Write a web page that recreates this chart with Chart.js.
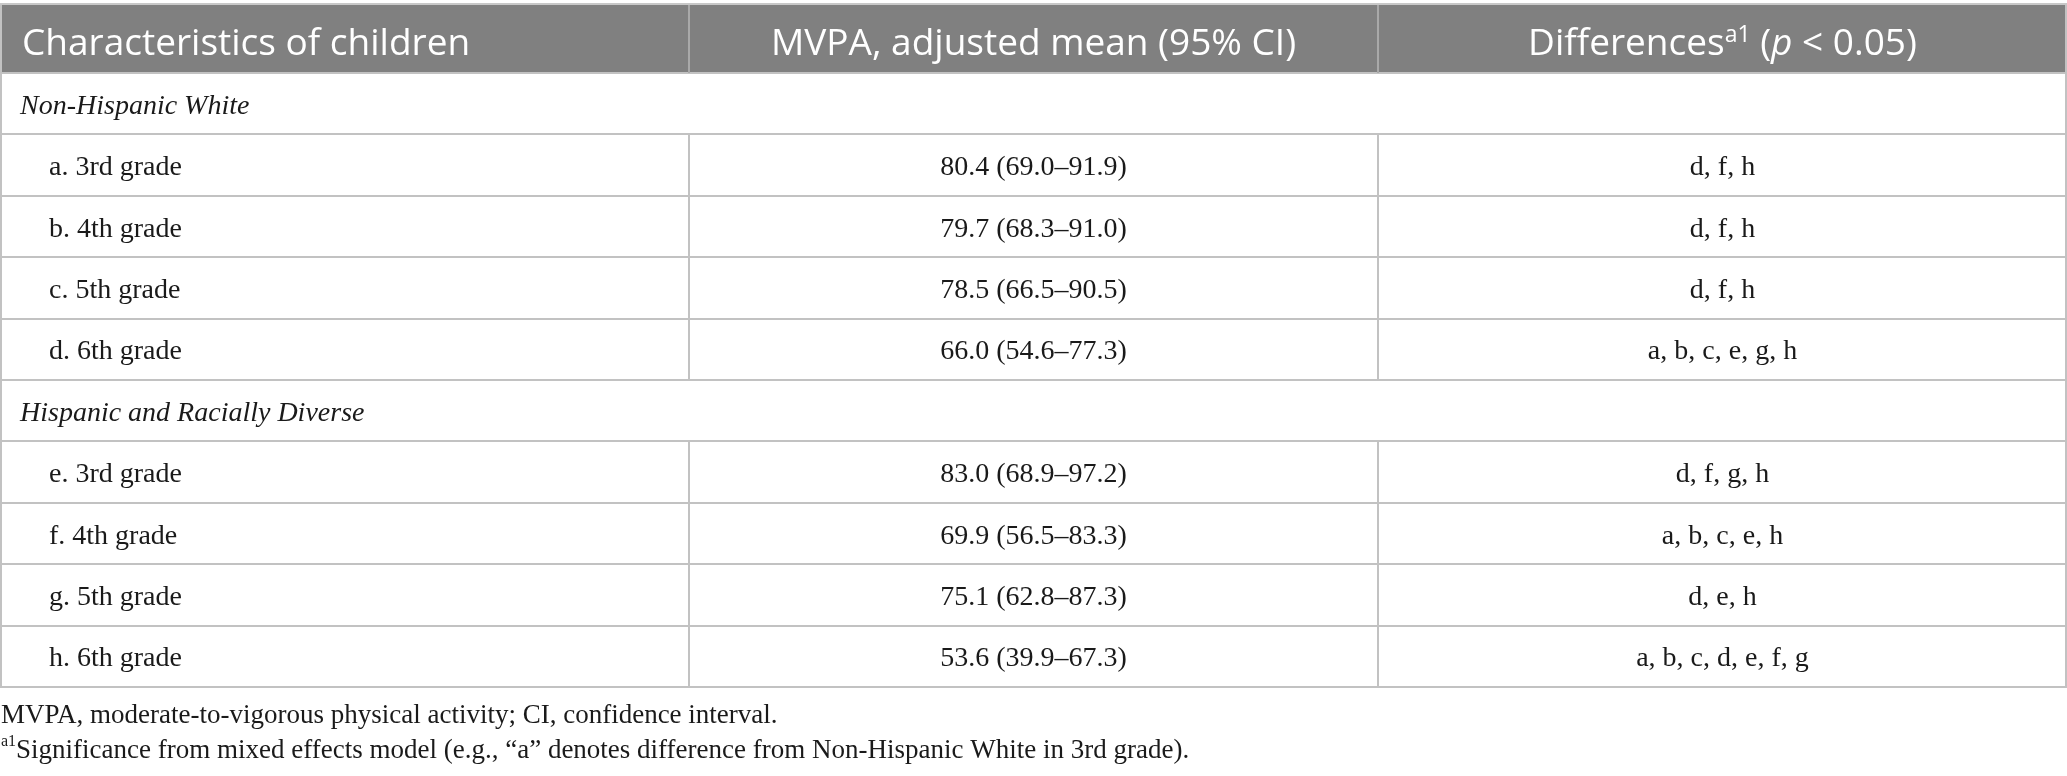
<!DOCTYPE html>
<html>
<head>
<meta charset="utf-8">
<script src="https://cdn.jsdelivr.net/npm/chart.js@4.4.1/dist/chart.umd.min.js"></script>
<style>
  html, body { margin: 0; padding: 0; background: #fff; }
  #wrap { width: 2067px; height: 776px; }
</style>
</head>
<body>
<div id="wrap"><canvas id="mvpaTable" width="2067" height="776"></canvas></div>
<script>
const columnHeaders = ['Characteristics of children', 'MVPA, adjusted mean (95% CI)', 'Differences'];
const groups = ['Non-Hispanic White', 'Hispanic and Racially Diverse'];
const grades = ['3rd grade', '4th grade', '5th grade', '6th grade'];
const letters = ['a', 'b', 'c', 'd', 'e', 'f', 'g', 'h'];
const means = [80.4, 79.7, 78.5, 66.0, 83.0, 69.9, 75.1, 53.6];
const ciLow = [69.0, 68.3, 66.5, 54.6, 68.9, 56.5, 62.8, 39.9];
const ciHigh = [91.9, 91.0, 90.5, 77.3, 97.2, 83.3, 87.3, 67.3];
const differences = ['d, f, h', 'd, f, h', 'd, f, h', 'a, b, c, e, g, h',
  'd, f, g, h', 'a, b, c, e, h', 'd, e, h', 'a, b, c, d, e, f, g'];
const footnote1 = 'MVPA, moderate-to-vigorous physical activity; CI, confidence interval.';
const footnote2 = 'Significance from mixed effects model (e.g., \u201ca\u201d denotes difference from Non-Hispanic White in 3rd grade).';

// one entry per table row: group headings, then lettered grades
const rows = [];
groups.forEach((g, gi) => {
  rows.push({ label: g, group: true });
  grades.forEach((gr, i) => {
    const k = gi * grades.length + i;
    rows.push({ label: letters[k] + '. ' + gr, group: false, k: k });
  });
});

const SANS = '"Open Sans", "Noto Sans", sans-serif';
const SERIF = '"Liberation Serif", "DejaVu Serif", serif';
const LINE = '#c2c2c2';

const tablePlugin = {
  id: 'tableCells',
  afterDraw(chart) {
    const { ctx, chartArea, scales: { x, y } } = chart;
    const left = x.getPixelForValue(0);
    const right = x.getPixelForValue(3);
    const edges = [1, 2].map(v => x.getPixelForValue(v));
    const centers = [0.5, 1.5, 2.5].map(v => x.getPixelForValue(v));
    const band = y.getPixelForValue(1) - y.getPixelForValue(0);
    const headTop = 5;
    const headBottom = chartArea.top;

    ctx.save();

    // header band
    ctx.fillStyle = '#808080';
    ctx.fillRect(left, headTop, right - left, headBottom - headTop - 1);
    ctx.strokeStyle = '#c8c8c8';
    ctx.lineWidth = 2;
    ctx.beginPath();
    ctx.moveTo(left, headTop - 1);
    ctx.lineTo(right, headTop - 1);
    ctx.stroke();
    ctx.strokeStyle = '#a9a9a9';
    edges.forEach(ex => {
      ctx.beginPath();
      ctx.moveTo(ex, headTop);
      ctx.lineTo(ex, headBottom);
      ctx.stroke();
    });

    // vertical rules in body (group rows span the whole width)
    ctx.strokeStyle = LINE;
    rows.forEach((r, i) => {
      if (r.group) return;
      const cy = y.getPixelForValue(i);
      edges.forEach(ex => {
        ctx.beginPath();
        ctx.moveTo(ex, cy - band / 2);
        ctx.lineTo(ex, cy + band / 2);
        ctx.stroke();
      });
    });
    ctx.beginPath();
    ctx.moveTo(left + 1, headTop);
    ctx.lineTo(left + 1, chartArea.bottom);
    ctx.moveTo(right - 1, headTop);
    ctx.lineTo(right - 1, chartArea.bottom);
    ctx.stroke();

    // header text
    const hy = headBottom - 18;
    ctx.fillStyle = '#ffffff';
    ctx.textBaseline = 'alphabetic';
    ctx.font = '37px ' + SANS;
    ctx.textAlign = 'left';
    ctx.fillText(columnHeaders[0], left + 22, hy);
    ctx.textAlign = 'center';
    ctx.fillText(columnHeaders[1], centers[1], hy);

    // "Differences^a1 (p < 0.05)"
    ctx.textAlign = 'left';
    const parts = [
      { t: columnHeaders[2], f: '37px ' + SANS, dy: 0 },
      { t: 'a1', f: '23px ' + SANS, dy: -13 },
      { t: ' (', f: '37px ' + SANS, dy: 0 },
      { t: 'p', f: 'italic 37px ' + SANS, dy: 0 },
      { t: ' < 0.05)', f: '37px ' + SANS, dy: 0 }
    ];
    let total = 0;
    parts.forEach(p => { ctx.font = p.f; p.w = ctx.measureText(p.t).width; total += p.w; });
    let px = centers[2] - total / 2;
    parts.forEach(p => { ctx.font = p.f; ctx.fillText(p.t, px, hy + p.dy); px += p.w; });

    // body cells
    ctx.fillStyle = '#1a1a1a';
    rows.forEach((r, i) => {
      const by = y.getPixelForValue(i) + 10;
      if (r.group) {
        ctx.font = 'italic 28px ' + SERIF;
        ctx.textAlign = 'left';
        ctx.fillText(r.label, left + 20, by);
        return;
      }
      ctx.font = '28px ' + SERIF;
      ctx.textAlign = 'left';
      ctx.fillText(r.label, left + 49, by);
      ctx.textAlign = 'center';
      const k = r.k;
      ctx.fillText(means[k].toFixed(1) + ' (' + ciLow[k].toFixed(1) + '\u2013' + ciHigh[k].toFixed(1) + ')', centers[1], by);
      ctx.fillText(differences[k], centers[2], by);
    });

    // footnotes
    ctx.textAlign = 'left';
    ctx.font = '27px ' + SERIF;
    ctx.fillText(footnote1, left + 1, chartArea.bottom + 36);
    ctx.font = '16px ' + SERIF;
    ctx.fillText('a1', left + 1, chartArea.bottom + 59);
    const supW = ctx.measureText('a1').width;
    ctx.font = '27px ' + SERIF;
    ctx.fillText(footnote2, left + 1 + supW, chartArea.bottom + 71);

    ctx.restore();
  }
};

new Chart(document.getElementById('mvpaTable'), {
  type: 'bar',
  data: {
    labels: rows.map(r => r.label),
    datasets: []
  },
  options: {
    indexAxis: 'y',
    responsive: false,
    animation: false,
    events: [],
    layout: { padding: { top: 73, bottom: 89, left: 0, right: 0 } },
    plugins: {
      legend: { display: false },
      tooltip: { enabled: false }
    },
    scales: {
      x: { type: 'linear', min: 0, max: 3, display: false },
      y: {
        type: 'category',
        offset: true,
        ticks: { display: false },
        border: { display: false },
        grid: { offset: true, color: LINE, lineWidth: 2, drawTicks: false }
      }
    }
  },
  plugins: [tablePlugin]
});
</script>
</body>
</html>
